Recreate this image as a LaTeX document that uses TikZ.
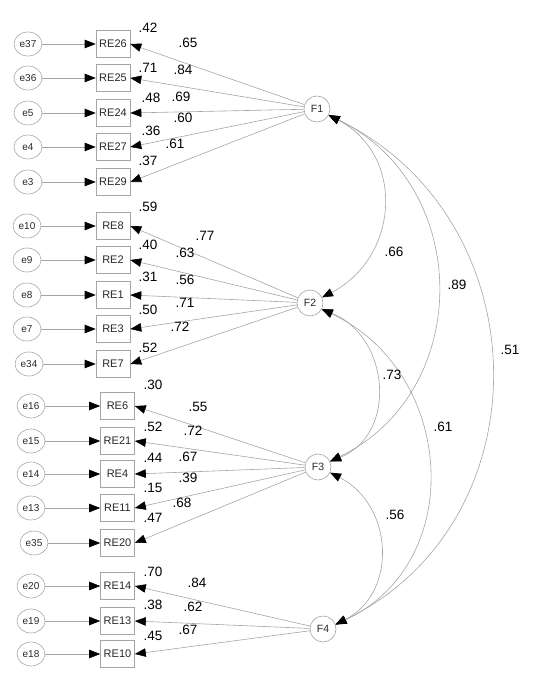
\documentclass[tikz,border=0pt]{standalone}
\usepackage{fontspec}
\setmainfont{Liberation Sans}
\usetikzlibrary{arrows.meta,shapes.geometric}
\definecolor{ln}{RGB}{165,165,165}
\definecolor{tx}{RGB}{40,40,40}
\begin{document}
\begin{tikzpicture}[x=1pt,y=-1pt,
  err/.style={ellipse,draw=ln,line width=0.6pt,minimum width=28pt,minimum height=24pt,inner sep=0pt,font=\fontsize{10}{11}\selectfont,text=tx},
  obs/.style={rectangle,draw=ln,line width=0.6pt,minimum width=34pt,minimum height=27pt,inner sep=0pt,font=\fontsize{11}{12}\selectfont,text=tx},
  lat/.style={circle,draw=ln,line width=0.6pt,minimum size=26pt,inner sep=0pt,font=\fontsize{10.5}{11}\selectfont,text=tx},
  num/.style={font=\fontsize{13.5}{14}\selectfont,text=black,inner sep=0pt},
  arr/.style={draw=ln,line width=0.6pt,-{Triangle[length=11pt,width=8.5pt,color=black]}},
  cov/.style={draw=ln,line width=0.6pt,{Triangle[length=11pt,width=8.5pt,color=black]}-{Triangle[length=11pt,width=8.5pt,color=black]}}
]
\useasboundingbox (0,0) rectangle (550,679);

% latent factors
\node[lat] (F1) at (317,109) {F1};
\node[lat] (F2) at (310,303) {F2};
\node[lat] (F3) at (318,467) {F3};
\node[lat] (F4) at (323,629) {F4};

% group 1
\node[err] (e37) at (28,44) {e37};  \node[obs] (RE26) at (113,44) {RE26};
\node[err] (e36) at (28,78) {e36};  \node[obs] (RE25) at (113,78) {RE25};
\node[err] (e5)  at (28,113) {e5};  \node[obs] (RE24) at (113,113) {RE24};
\node[err] (e4)  at (28,147) {e4};  \node[obs] (RE27) at (113,147) {RE27};
\node[err] (e3)  at (28,182) {e3};  \node[obs] (RE29) at (113,182) {RE29};

% group 2
\node[err] (e10) at (27,226) {e10}; \node[obs] (RE8) at (113,226) {RE8};
\node[err] (e9)  at (27,260) {e9};  \node[obs] (RE2) at (113,260) {RE2};
\node[err] (e8)  at (27,295) {e8};  \node[obs] (RE1) at (113,295) {RE1};
\node[err] (e7)  at (27,329) {e7};  \node[obs] (RE3) at (113,329) {RE3};
\node[err] (e34) at (29,364) {e34}; \node[obs] (RE7) at (113,364) {RE7};

% group 3
\node[err] (e16) at (31,406) {e16}; \node[obs] (RE6)  at (117.5,406) {RE6};
\node[err] (e15) at (31,441) {e15}; \node[obs] (RE21) at (117.5,441) {RE21};
\node[err] (e14) at (31,474) {e14}; \node[obs] (RE4)  at (117.5,474) {RE4};
\node[err] (e13) at (31,508) {e13}; \node[obs] (RE11) at (117.5,508) {RE11};
\node[err] (e35) at (34,543) {e35}; \node[obs] (RE20) at (117.5,543) {RE20};

% group 4
\node[err] (e20) at (31,586) {e20}; \node[obs] (RE14) at (117.5,586) {RE14};
\node[err] (e19) at (31,621) {e19}; \node[obs] (RE13) at (117.5,621) {RE13};
\node[err] (e18) at (31,654) {e18}; \node[obs] (RE10) at (117.5,654) {RE10};

% error arrows
\foreach \e/\r in {e37/RE26,e36/RE25,e5/RE24,e4/RE27,e3/RE29,
                   e10/RE8,e9/RE2,e8/RE1,e7/RE3,e34/RE7,
                   e16/RE6,e15/RE21,e14/RE4,e13/RE11,e35/RE20,
                   e20/RE14,e19/RE13,e18/RE10}
  \draw[arr] (\e) -- (\r);

% loadings
\foreach \r in {RE26,RE25,RE24,RE27,RE29} \draw[arr] (F1) -- (\r.east);
\foreach \r in {RE8,RE2,RE1,RE3,RE7} \draw[arr] (F2) -- (\r.east);
\foreach \r in {RE6,RE21,RE4,RE11,RE20} \draw[arr] (F3) -- (\r.east);
\foreach \r in {RE14,RE13,RE10} \draw[arr] (F4) -- (\r.east);

% covariances
\draw[cov] (F1.-28) .. controls +(77,40) and +(77,-40) .. (F2.25);
\draw[cov] (F1.-28) .. controls +(144,70) and +(144,-70) .. (F3.25);
\draw[cov] (F1.-28) .. controls +(212,103) and +(212,-103) .. (F4.20);
\draw[cov] (F2.-28) .. controls +(68,27) and +(68,-27) .. (F3.25);
\draw[cov] (F2.-28) .. controls +(133,62) and +(133,-62) .. (F4.20);
\draw[cov] (F3.-25) .. controls +(63,32) and +(63,-32) .. (F4.20);

% group 1 labels
\node[num] (s26) at (148,28) {.42};  \node[num] (l26) at (188,43) {.65};
\node[num] (s25) at (148,68) {.71};  \node[num] (l25) at (183,70) {.84};
\node[num] (s24) at (151,98) {.48};  \node[num] (l24) at (181,97) {.69};
\node[num] (s27) at (151,131) {.36}; \node[num] (l27) at (183,118) {.60};
\node[num] (s29) at (148,161) {.37}; \node[num] (l29) at (175,144) {.61};

% group 2 labels
\node[num] (s8) at (148,207) {.59};  \node[num] (l8) at (205,236) {.77};
\node[num] (s2) at (148,245) {.40};  \node[num] (l2) at (185,253) {.63};
\node[num] (s1) at (148,277) {.31};  \node[num] (l1) at (185,280) {.56};
\node[num] (s3) at (148,310) {.50};  \node[num] (l3) at (185,303) {.71};
\node[num] (s7) at (148,348) {.52};  \node[num] (l7) at (180,327) {.72};

% group 3 labels
\node[num] (s6) at (153,385) {.30};  \node[num] (l6) at (198,407) {.55};
\node[num] (s21) at (153,427) {.52}; \node[num] (l21) at (193,431) {.72};
\node[num] (s4) at (153,458) {.44};  \node[num] (l4) at (188,457) {.67};
\node[num] (s11) at (153,488) {.15}; \node[num] (l11) at (188,478) {.39};
\node[num] (s20) at (153,518) {.47}; \node[num] (l20) at (182,503) {.68};

% group 4 labels
\node[num] (s14) at (153,572) {.70}; \node[num] (l14) at (197,583) {.84};
\node[num] (s13) at (153,605) {.38}; \node[num] (l13) at (193,607) {.62};
\node[num] (s10) at (153,636) {.45}; \node[num] (l10) at (188,630) {.67};

% covariance labels
\node[num] (c12) at (394,252) {.66};
\node[num] (c13) at (457,285) {.89};
\node[num] (c14) at (510,350) {.51};
\node[num] (c23) at (392,375) {.73};
\node[num] (c24) at (443,427) {.61};
\node[num] (c34) at (395,515) {.56};
\end{tikzpicture}
\end{document}
